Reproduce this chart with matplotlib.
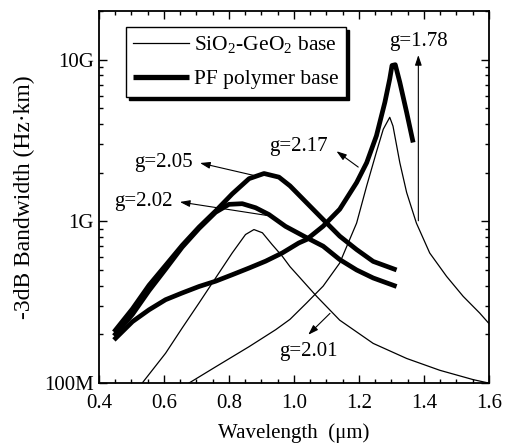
import matplotlib
matplotlib.use("Agg")
import matplotlib.pyplot as plt
import numpy as np
from matplotlib.ticker import (MultipleLocator, FixedLocator, FixedFormatter,
                               LogLocator, NullFormatter, FormatStrFormatter)

plt.rcParams["font.family"] = ["Liberation Serif", "DejaVu Serif"]
plt.rcParams["mathtext.fontset"] = "custom"
plt.rcParams["mathtext.rm"] = "Liberation Serif"

# wavelength (um) / bandwidth (GHz.km)
# SiO2-GeO2 base, g=2.01 (peak near 0.88 um)
sio2_a_x = [0.533, 0.605, 0.656, 0.708, 0.759, 0.810, 0.851, 0.877, 0.903, 0.933, 0.964,
            0.988, 1.015, 1.07, 1.141, 1.244, 1.347, 1.449, 1.552, 1.60]
sio2_a_y = [0.100, 0.153, 0.219, 0.313, 0.447, 0.638, 0.830, 0.891, 0.851, 0.719, 0.610,
            0.525, 0.457, 0.344, 0.245, 0.176, 0.142, 0.120, 0.105, 0.100]

# SiO2-GeO2 base (peak near 1.3 um)
sio2_b_x = [0.677, 0.759, 0.862, 0.944, 0.988, 1.039, 1.09, 1.141, 1.193, 1.224, 1.254,
            1.275, 1.295, 1.305, 1.326, 1.347, 1.377, 1.418, 1.47, 1.521, 1.572, 1.60]
sio2_b_y = [0.100, 0.126, 0.168, 0.214, 0.248, 0.313, 0.398, 0.553, 0.977, 1.66, 2.69,
            3.72, 4.41, 3.89, 2.31, 1.51, 0.977, 0.638, 0.457, 0.344, 0.271, 0.234]

# PF polymer base, g=2.05
pf_205_x = [0.446, 0.503, 0.554, 0.605, 0.656, 0.708, 0.759, 0.810, 0.862, 0.908, 0.954,
            0.988, 1.039, 1.09, 1.141, 1.193, 1.244, 1.316]
pf_205_y = [0.207, 0.288, 0.403, 0.535, 0.711, 0.923, 1.160, 1.48, 1.84, 1.98, 1.88,
            1.66, 1.306, 1.028, 0.811, 0.670, 0.566, 0.501]

# PF polymer base, g=2.02
pf_202_x = [0.446, 0.503, 0.554, 0.605, 0.656, 0.708, 0.759, 0.80, 0.841, 0.882, 0.923,
            0.974, 1.039, 1.09, 1.141, 1.193, 1.244, 1.316]
pf_202_y = [0.196, 0.266, 0.373, 0.507, 0.693, 0.905, 1.140, 1.276, 1.288, 1.216, 1.104,
            0.933, 0.794, 0.703, 0.581, 0.501, 0.447, 0.396]

# PF polymer base, g=1.78
pf_178_x = [0.446, 0.503, 0.554, 0.605, 0.656, 0.708, 0.759, 0.810, 0.862, 0.913, 0.964,
            1.015, 1.039, 1.09, 1.141, 1.193, 1.224, 1.254, 1.28, 1.295, 1.302, 1.312,
            1.326, 1.347, 1.367]
pf_178_y = [0.185, 0.240, 0.284, 0.328, 0.361, 0.396, 0.427, 0.468, 0.515, 0.568, 0.638,
            0.736, 0.773, 0.935, 1.19, 1.74, 2.31, 3.39, 5.46, 7.62, 9.23, 9.33,
            7.26, 4.73, 3.08]

# curve labels and their arrows (arrow runs from curve to label)
labels = ["g=2.05", "g=2.02", "g=2.17", "g=1.78", "g=2.01"]
label_x = [0.598, 0.536, 1.015, 1.383, 1.044]
label_y = [2.33, 1.32, 2.90, 12.9, 0.157]
tail_x = [0.875, 0.916, 1.198, 1.383, 1.111]
tail_y = [1.93, 1.09, 2.17, 1.01, 0.270]
head_x = [0.711, 0.649, 1.131, 1.383, 1.044]
head_y = [2.30, 1.32, 2.72, 10.7, 0.199]

G = 1e9

fig = plt.figure(figsize=(5.05, 4.47), dpi=100)
ax = fig.add_axes([0.196, 0.143, 0.772, 0.832])

thin = dict(color="black", lw=0.9)
thick = dict(color="black", lw=3.4, solid_capstyle="butt", solid_joinstyle="round")

ax.plot(sio2_a_x, np.array(sio2_a_y) * G, **thin,
        label=r"SiO$_\mathregular{2}$-GeO$_\mathregular{2}$ base")
ax.plot(sio2_b_x, np.array(sio2_b_y) * G, **thin)
ax.plot(pf_205_x, np.array(pf_205_y) * G, **thick, label="PF polymer base")
ax.plot(pf_202_x, np.array(pf_202_y) * G, **thick)
ax.plot(pf_178_x, np.array(pf_178_y) * G, **thick)

for i, txt in enumerate(labels):
    ax.text(label_x[i], label_y[i] * G, txt, ha="center", va="center", fontsize=15)
    ax.annotate("", xy=(head_x[i], head_y[i] * G), xytext=(tail_x[i], tail_y[i] * G),
                arrowprops=dict(arrowstyle="-|>,head_length=0.6,head_width=0.2",
                                color="black", lw=0.8, shrinkA=0, shrinkB=0))

ax.set_xlim(0.4, 1.6)
ax.set_yscale("log")
ax.set_ylim(1e8, 2e10)

ax.xaxis.set_major_locator(MultipleLocator(0.2))
ax.xaxis.set_minor_locator(MultipleLocator(0.05))
ax.xaxis.set_major_formatter(FormatStrFormatter("%.1f"))
ax.yaxis.set_major_locator(FixedLocator([1e8, 1e9, 1e10]))
ax.yaxis.set_major_formatter(FixedFormatter(["100M", "1G", "10G"]))
ax.yaxis.set_minor_locator(LogLocator(base=10, subs=np.arange(2, 10)))
ax.yaxis.set_minor_formatter(NullFormatter())

ax.tick_params(which="both", direction="in", top=True, right=True, labelsize=15, width=1.0)
ax.tick_params(which="major", length=6)
ax.tick_params(which="minor", length=3)
ax.tick_params(axis="x", which="major", pad=8)
for sp in ax.spines.values():
    sp.set_linewidth(1.3)

ax.set_xlabel("Wavelength  (\u03bcm)", fontsize=15, labelpad=7)
ax.set_ylabel("-3dB Bandwidth (Hz\u00b7km)", fontsize=17, labelpad=7)

leg = ax.legend(loc="upper left", bbox_to_anchor=(0.069, 0.957), borderaxespad=0,
                fontsize=15.5, fancybox=False, edgecolor="black", framealpha=1,
                handlelength=2.6, handletextpad=0.2, borderpad=0.35, labelspacing=0.6,
                shadow={"color": "black", "alpha": 1})
leg.get_frame().set_linewidth(1.0)
leg.get_lines()[1].set_linewidth(3.8)

fig.savefig("out.png", dpi=100)
